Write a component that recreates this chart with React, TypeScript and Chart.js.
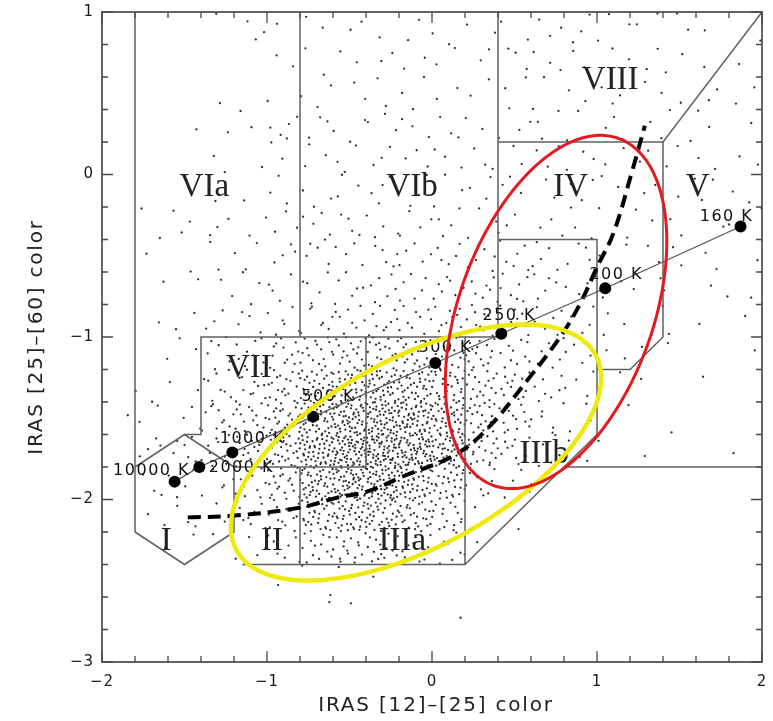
import React, { useEffect, useRef } from "react";
import { Chart, registerables } from "chart.js";

Chart.register(...registerables);

const W = 773;
const H = 721;

// ---- axes ----
const X_RANGE = [-2, 2];
const Y_RANGE = [-3, 1];
const X_MAJOR = [-2, -1, 0, 1, 2];
const Y_MAJOR = [1, 0, -1, -2, -3];
const MINOR_STEP = 0.2;
const X_TITLE = "IRAS [12]–[25] color";
const Y_TITLE = "IRAS [25]–[60] color";

// ---- blackbody line ----
const BB_TEMPS = ["10000 K", "2000 K", "1000 K", "500 K", "300 K", "250 K", "200 K", "160 K"];
const BB_X = [-1.56, -1.41, -1.21, -0.72, 0.02, 0.42, 1.05, 1.87];
const BB_Y = [-1.89, -1.8, -1.71, -1.49, -1.16, -0.98, -0.7, -0.32];

// ---- dashed evolutionary track ----
const DASH_X = [-1.48, -1.21, -0.8, -0.58, -0.39, -0.18, 0.13, 0.33, 0.59, 0.79, 0.9, 1.0, 1.1, 1.21, 1.29];
const DASH_Y = [-2.11, -2.1, -2.05, -1.99, -1.95, -1.86, -1.73, -1.57, -1.25, -0.98, -0.79, -0.57, -0.36, 0.01, 0.3];

// ---- region names ----
const REGION_NAMES = ["VIa", "VIb", "VIII", "IV", "V", "VII", "IIIb", "I", "II", "IIIa"];
const REGION_X = [-1.38, -0.12, 1.08, 0.84, 1.61, -1.11, 0.68, -1.61, -0.97, -0.18];
const REGION_Y = [-0.08, -0.08, 0.58, -0.08, -0.08, -1.19, -1.72, -2.26, -2.26, -2.26];

// ---- region boundaries (polylines, data units) ----
const BOUNDARIES: [number, number][][] = [
  [[-1.8, 1], [-1.8, -2.2]],
  [[-1.8, -1.8], [-1.5, -1.6], [-1.2, -1.8], [-1.2, -2.2], [-1.5, -2.4], [-1.8, -2.2]],
  [[-1.5, -1.6], [-1.4, -1.6], [-1.4, -1.0], [0.4, -1.0]],
  [[-0.8, 1], [-0.8, -1.0]],
  [[0.4, 1], [0.4, -1.0]],
  [[-1.2, -1.8], [-0.4, -1.8], [-0.4, -1.0]],
  [[-0.8, -1.8], [-0.8, -2.4]],
  [[-1.15, -2.4], [0.2, -2.4], [1.0, -1.6], [1.0, -0.4], [0.4, -0.4]],
  [[0.2, -1.0], [0.2, -2.4]],
  [[0.8, -1.8], [2.0, -1.8]],
  [[0.4, 0.2], [1.4, 0.2], [2.0, 1.0]],
  [[1.4, 0.2], [1.4, -1.0], [1.2, -1.2], [1.0, -1.2]],
];

// ---- ellipses (data units) ----
const RED_ELLIPSE = { cx: 0.752, cy: -0.846, a: 1.133, b: 0.59, angle: 70.7 };
const YELLOW_ELLIPSE = { cx: -0.097, cy: -1.711, a: 1.243, b: 0.578, angle: 29.1 };

// ---- IRAS source density: counts per 0.2 x 0.2 cell, rows from y=1 down, cols from x=-2 ----
const DENSITY: number[][] = [
  [0, 0, 0, 1, 3, 1, 2, 2, 1, 2, 2, 2, 2, 3, 3, 3, 2, 2, 1, 1],
  [0, 0, 0, 0, 0, 2, 2, 2, 2, 2, 2, 2, 3, 3, 2, 2, 2, 2, 1, 1],
  [0, 0, 0, 1, 0, 1, 3, 2, 2, 3, 2, 2, 3, 2, 2, 3, 2, 1, 2, 2],
  [0, 0, 1, 1, 2, 5, 3, 3, 3, 3, 3, 2, 3, 3, 2, 3, 2, 2, 2, 1],
  [0, 0, 0, 2, 1, 2, 3, 3, 3, 3, 3, 3, 2, 3, 3, 2, 2, 2, 2, 2],
  [0, 0, 0, 1, 1, 3, 3, 3, 4, 3, 3, 3, 3, 2, 3, 2, 2, 2, 2, 2],
  [0, 2, 3, 3, 2, 3, 4, 4, 4, 4, 4, 4, 3, 3, 3, 2, 2, 2, 1, 2],
  [0, 1, 1, 2, 3, 4, 5, 4, 5, 5, 5, 6, 6, 5, 4, 2, 2, 2, 2, 1],
  [0, 1, 1, 2, 3, 4, 5, 6, 6, 6, 7, 8, 7, 5, 4, 2, 2, 1, 2, 1],
  [0, 1, 2, 3, 4, 6, 7, 8, 9, 9, 10, 10, 8, 6, 4, 3, 2, 1, 1, 1],
  [0, 1, 2, 6, 8, 12, 15, 18, 20, 20, 18, 15, 10, 6, 4, 2, 1, 1, 0, 1],
  [0, 2, 2, 8, 12, 18, 30, 36, 40, 36, 28, 18, 12, 7, 4, 1, 1, 0, 1, 0],
  [1, 2, 3, 10, 15, 24, 42, 55, 60, 55, 40, 22, 12, 6, 3, 1, 0, 1, 0, 0],
  [0, 4, 6, 10, 18, 30, 52, 65, 70, 62, 45, 22, 10, 5, 3, 1, 1, 0, 0, 1],
  [0, 3, 4, 5, 10, 20, 42, 55, 52, 40, 27, 8, 4, 1, 0, 0, 0, 0, 0, 0],
  [0, 2, 3, 3, 8, 13, 30, 36, 34, 27, 16, 3, 1, 0, 0, 0, 0, 0, 0, 0],
  [0, 1, 1, 1, 4, 7, 12, 15, 15, 12, 8, 1, 0, 0, 0, 0, 0, 0, 0, 0],
  [0, 0, 0, 0, 0, 1, 2, 1, 1, 0, 0, 0, 0, 0, 0, 0, 0, 0, 0, 0],
  [0, 0, 0, 0, 0, 0, 1, 1, 0, 0, 1, 0, 0, 0, 0, 0, 0, 0, 0, 0],
  [0, 0, 0, 0, 0, 0, 0, 0, 0, 0, 0, 0, 0, 0, 0, 0, 0, 0, 0, 0],
];
const CELL = 0.2;

// ---- styles ----
const BB_LABEL_OFFSET: [number, number][] = [
  [-23, -11], [42, 1], [20, -14], [15, -20], [10, -15], [8, -18], [11, -13], [-14, -10],
];

// radical-inverse (Halton) placement of each cell's counted sources
function radicalInverse(i: number, b: number) {
  let f = 1;
  let r = 0;
  while (i > 0) {
    f /= b;
    r += f * (i % b);
    i = Math.floor(i / b);
  }
  return r;
}

function fieldPoints() {
  const pts: { x: number; y: number }[] = [];
  DENSITY.forEach((row, r) =>
    row.forEach((n, c) => {
      const x0 = X_RANGE[0] + CELL * c;
      const y1 = Y_RANGE[1] - CELL * r;
      const k = r * 20 + c;
      const start = ((k * 37) % 211) + 1;
      const swap = (r + c) % 2 === 1;
      for (let i = 0; i < n; i++) {
        const a = radicalInverse(start + i, 2);
        const b = radicalInverse(start + i, 3);
        const u = swap ? b : a;
        const v = swap ? a : b;
        pts.push({ x: x0 + CELL * u, y: y1 - CELL * v });
      }
    })
  );
  return pts;
}

function drawEllipse(ctx: any, xs: any, ys: any, e: any, color: string, width: number) {
  const th = (e.angle * Math.PI) / 180;
  ctx.beginPath();
  const N = 260;
  for (let i = 0; i <= N; i++) {
    const t = (i / N) * Math.PI * 2;
    const dx = e.a * Math.cos(t);
    const dy = e.b * Math.sin(t);
    const X = e.cx + dx * Math.cos(th) - dy * Math.sin(th);
    const Y = e.cy + dx * Math.sin(th) + dy * Math.cos(th);
    const px = xs.getPixelForValue(X);
    const py = ys.getPixelForValue(Y);
    if (i === 0) ctx.moveTo(px, py);
    else ctx.lineTo(px, py);
  }
  ctx.closePath();
  ctx.strokeStyle = color;
  ctx.lineWidth = width;
  ctx.stroke();
}

const fmt = (v: number) => (v < 0 ? "−" + Math.abs(v) : String(v));

const overlay = {
  id: "overlay",
  afterDatasetsDraw(chart: any) {
    const { ctx, chartArea, scales } = chart;
    const { left, right, top, bottom } = chartArea;
    const xs = scales.x;
    const ys = scales.y;
    const px = (v: number) => xs.getPixelForValue(v);
    const py = (v: number) => ys.getPixelForValue(v);
    ctx.save();

    // region labels
    ctx.fillStyle = "#222";
    ctx.textAlign = "center";
    ctx.textBaseline = "middle";
    ctx.font = '33px "Liberation Serif", "DejaVu Serif", serif';
    REGION_NAMES.forEach((n, i) => ctx.fillText(n, px(REGION_X[i]), py(REGION_Y[i])));

    // temperature labels
    ctx.font = '16px "DejaVu Sans", sans-serif';
    ctx.fillStyle = "#111";
    (ctx as any).letterSpacing = "1.5px";
    BB_TEMPS.forEach((t, i) => {
      const [dx, dy] = BB_LABEL_OFFSET[i];
      ctx.fillText(t, px(BB_X[i]) + dx, py(BB_Y[i]) + dy);
    });
    (ctx as any).letterSpacing = "0px";

    // ellipses
    drawEllipse(ctx, xs, ys, YELLOW_ELLIPSE, "#eeea10", 4.5);
    drawEllipse(ctx, xs, ys, RED_ELLIPSE, "#e31a1f", 3);

    // frame
    ctx.strokeStyle = "#4a4a4a";
    ctx.lineWidth = 1.7;
    ctx.strokeRect(left, top, right - left, bottom - top);

    // ticks (inward, all four sides)
    ctx.lineWidth = 1.3;
    ctx.beginPath();
    const nx = Math.round((X_RANGE[1] - X_RANGE[0]) / MINOR_STEP);
    for (let i = 0; i <= nx; i++) {
      const v = X_RANGE[0] + i * MINOR_STEP;
      const major = Math.abs(v - Math.round(v)) < 1e-6;
      const len = major ? 11 : 6;
      const x = px(v);
      ctx.moveTo(x, bottom);
      ctx.lineTo(x, bottom - len);
      ctx.moveTo(x, top);
      ctx.lineTo(x, top + len);
    }
    const ny = Math.round((Y_RANGE[1] - Y_RANGE[0]) / MINOR_STEP);
    for (let i = 0; i <= ny; i++) {
      const v = Y_RANGE[0] + i * MINOR_STEP;
      const major = Math.abs(v - Math.round(v)) < 1e-6;
      const len = major ? 11 : 6;
      const y = py(v);
      ctx.moveTo(left, y);
      ctx.lineTo(left + len, y);
      ctx.moveTo(right, y);
      ctx.lineTo(right - len, y);
    }
    ctx.stroke();

    // tick labels
    ctx.fillStyle = "#1a1a1a";
    ctx.font = '15px "DejaVu Sans", sans-serif';
    (ctx as any).letterSpacing = "1px";
    ctx.textAlign = "center";
    ctx.textBaseline = "middle";
    X_MAJOR.forEach((v) => ctx.fillText(fmt(v), px(v), bottom + 20));
    ctx.textAlign = "right";
    Y_MAJOR.forEach((v) => ctx.fillText(fmt(v), left - 8, py(v)));

    // axis titles
    ctx.fillStyle = "#222";
    ctx.font = '20px "DejaVu Sans", sans-serif';
    (ctx as any).letterSpacing = "1.8px";
    ctx.textAlign = "center";
    ctx.fillText(X_TITLE, (left + right) / 2 + 4, 706);
    ctx.save();
    ctx.translate(37, (top + bottom) / 2);
    ctx.rotate(-Math.PI / 2);
    ctx.fillText(Y_TITLE, 0, 0);
    ctx.restore();
    (ctx as any).letterSpacing = "0px";

    ctx.restore();
  },
};

export default function App() {
  const ref = useRef<HTMLCanvasElement>(null);

  useEffect(() => {
    const canvas = ref.current;
    if (!canvas) return;

    const boundarySets = BOUNDARIES.map((line) => ({
      data: line.map(([x, y]) => ({ x, y })),
      showLine: true,
      borderColor: "#606060",
      borderWidth: 1.5,
      pointRadius: 0,
      tension: 0,
      order: 2,
    }));

    const chart = new Chart(canvas, {
      type: "scatter",
      data: {
        datasets: [
          {
            data: BB_X.map((x, i) => ({ x, y: BB_Y[i] })),
            showLine: true,
            borderColor: "#555",
            borderWidth: 1.3,
            pointRadius: 6,
            pointBackgroundColor: "#000",
            pointBorderWidth: 0,
            order: 0,
          },
          {
            data: DASH_X.map((x, i) => ({ x, y: DASH_Y[i] })),
            showLine: true,
            borderColor: "#000",
            borderWidth: 4,
            borderDash: [13, 7],
            pointRadius: 0,
            tension: 0.4,
            order: 1,
          },
          ...boundarySets,
          {
            data: fieldPoints(),
            pointRadius: 1.15,
            pointBackgroundColor: "#2e2e2e",
            pointBorderWidth: 0,
            showLine: false,
            order: 3,
          },
        ] as any,
      },
      options: {
        responsive: false,
        animation: false,
        devicePixelRatio: 1,
        layout: { padding: { left: 102, right: W - 762, top: 12, bottom: H - 662 } },
        scales: {
          x: { type: "linear", min: X_RANGE[0], max: X_RANGE[1], display: false },
          y: { type: "linear", min: Y_RANGE[0], max: Y_RANGE[1], display: false },
        },
        plugins: { legend: { display: false }, tooltip: { enabled: false } },
        events: [],
      },
      plugins: [overlay],
    });

    return () => chart.destroy();
  }, []);

  return (
    <div style={{ position: "absolute", left: 0, top: 0, width: W, height: H, background: "#fff" }}>
      <canvas ref={ref} width={W} height={H} style={{ width: W, height: H, display: "block" }} />
    </div>
  );
}
